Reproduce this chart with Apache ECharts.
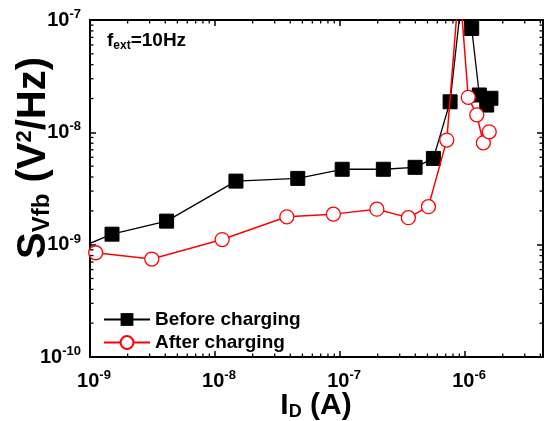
<!DOCTYPE html>
<html><head><meta charset="utf-8">
<script src="https://cdn.jsdelivr.net/npm/echarts@6/dist/echarts.min.js"></script>
<style>html,body{margin:0;padding:0;background:#fff}#c{width:544px;height:421px}</style>
</head><body><div id="c"></div>
<script>
// ---- data ----
const beforeX = [7e-10, 1.5e-9, 4.1e-9, 1.47e-8, 4.59e-8, 1.04e-7, 2.22e-7, 3.98e-7, 5.58e-7, 7.59e-7, 9.1e-7, 1.13e-6, 1.30e-6, 1.49e-6, 1.61e-6];
const beforeY = [8.7e-10, 1.24e-9, 1.62e-9, 3.68e-9, 3.89e-9, 4.69e-9, 4.69e-9, 4.88e-9, 5.86e-9, 1.87e-8, 1.15e-7, 8.4e-8, 2.15e-8, 1.75e-8, 2.01e-8];
const afterX = [1.11e-9, 3.12e-9, 1.14e-8, 3.75e-8, 8.84e-8, 1.97e-7, 3.52e-7, 5.09e-7, 7.14e-7, 9.0e-7, 1.06e-6, 1.24e-6, 1.40e-6, 1.56e-6];
const afterY = [8.47e-10, 7.45e-10, 1.11e-9, 1.77e-9, 1.87e-9, 2.07e-9, 1.74e-9, 2.18e-9, 8.53e-9, 2.2e-7, 2.05e-8, 1.43e-8, 8.07e-9, 1.01e-8];
const seriesNames = ['Before charging', 'After charging'];
const xTickExps = [-9, -8, -7, -6];
const yTickExps = [-10, -9, -8, -7];
const xMin = 1e-9, xMax = 4.2e-6, yMin = 1e-10, yMax = 1e-7;
const minorMult = [2, 3, 4, 5, 6, 7, 8, 9];

const FONT = 'Arial, "Liberation Sans", sans-serif';
const zip = (a, b) => a.map((v, i) => [v, b[i]]);

function expLabel(v, list) {
  const e = Math.round(Math.log10(v));
  if (Math.abs(Math.log10(v) - e) > 1e-6 || list.indexOf(e) < 0) return '';
  return '{n|10}{s|' + e + '}';
}
const labelRich = {
  n: {fontSize: 20, fontWeight: 'bold', fontFamily: FONT, color: '#000'},
  s: {fontSize: 13, fontWeight: 'bold', fontFamily: FONT, color: '#000', padding: [0, 0, 11, 0]}
};

// minor tick values
const xMinor = [], yMinor = [];
for (let e = -10; e <= -5; e++) minorMult.forEach(m => { const v = m * Math.pow(10, e); if (v > xMin && v < xMax) xMinor.push(v); });
for (let e = -11; e <= -7; e++) minorMult.forEach(m => { const v = m * Math.pow(10, e); if (v > yMin && v < yMax) yMinor.push(v); });

const chart = echarts.init(document.getElementById('c'), null, {renderer: 'canvas'});
const axisCommon = {
  type: 'log', logBase: 10,
  axisLine: {show: true, lineStyle: {color: '#000', width: 2}},
  axisTick: {show: true, inside: true, length: 6, lineStyle: {color: '#000', width: 1.5}},
  splitLine: {show: false}, minorTick: {show: false}
};
chart.setOption({
  animation: false,
  backgroundColor: '#fff',
  grid: {left: 90, right: 1, top: 20, bottom: 64, show: false, containLabel: false, outerBoundsMode: 'none'},
  xAxis: [
    Object.assign({}, axisCommon, {
      min: xMin, max: xMax, position: 'bottom',
      axisLabel: {show: true, margin: 12, padding: [0, 0, 0, 8], showMaxLabel: false, formatter: v => expLabel(v, xTickExps), rich: labelRich}
    }),
    Object.assign({}, axisCommon, {min: xMin, max: xMax, position: 'top', axisLabel: {show: false}})
  ],
  yAxis: [
    Object.assign({}, axisCommon, {
      min: yMin, max: yMax, position: 'left',
      axisLabel: {show: true, margin: 9, formatter: v => expLabel(v, yTickExps), rich: labelRich}
    }),
    Object.assign({}, axisCommon, {min: yMin, max: yMax, position: 'right', axisLabel: {show: false}})
  ],
  legend: {
    data: seriesNames, orient: 'vertical', left: 98, top: 305,
    itemWidth: 46, itemHeight: 16, itemGap: 4,
    textStyle: {fontSize: 19, fontWeight: 'bold', fontFamily: FONT, color: '#000'}
  },
  graphic: [{
    type: 'text', left: 107, top: 31, z: 10,
    style: {
      text: '{f|f}{sub|ext}{f|=10Hz}',
      rich: {
        f: {fontSize: 19, fontWeight: 'bold', fontFamily: FONT, fill: '#000'},
        sub: {fontSize: 12, fontWeight: 'bold', fontFamily: FONT, fill: '#000', padding: [10, 0, 0, 0]}
      }
    }
  }, {
    type: 'text', x: 34, y: 158, rotation: Math.PI / 2, z: 10,
    style: {
      text: '{S|S}{sub|Vfb}{S| (V}{sup|2}{S|/Hz)}',
      align: 'center', verticalAlign: 'middle',
      rich: {
        S: {fontSize: 40, fontWeight: 'bold', fontFamily: FONT, fill: '#000'},
        sub: {fontSize: 24, fontWeight: 'bold', fontFamily: FONT, fill: '#000', padding: [16, 0, 0, 0]},
        sup: {fontSize: 22, fontWeight: 'bold', fontFamily: FONT, fill: '#000', padding: [0, 0, 18, 0]}
      }
    }
  }, {
    type: 'text', x: 316, y: 406, z: 10,
    style: {
      text: '{I|I}{sub|D}{I| (A)}',
      align: 'center', verticalAlign: 'middle',
      rich: {
        I: {fontSize: 30, fontWeight: 'bold', fontFamily: FONT, fill: '#000'},
        sub: {fontSize: 18, fontWeight: 'bold', fontFamily: FONT, fill: '#000', padding: [12, 0, 0, 0]}
      }
    }
  }],
  series: [
    {
      name: seriesNames[0], type: 'line', data: zip(beforeX, beforeY), clip: true,
      symbol: 'rect', symbolSize: 14,
      lineStyle: {color: '#000', width: 1.3}, itemStyle: {color: '#000', borderColor: '#000'}, z: 3
    },
    {
      name: seriesNames[1], type: 'line', data: zip(afterX, afterY), clip: true,
      symbol: 'circle', symbolSize: 14, showAllSymbol: true,
      lineStyle: {color: '#ff0000', width: 1.5}, itemStyle: {color: '#fff', borderColor: '#ff0000', borderWidth: 1.3}, z: 4
    },
    {
      type: 'custom', coordinateSystem: 'cartesian2d', silent: true, clip: false, z: 5,
      data: [[xMin, yMin]],
      renderItem: function (params, api) {
        const cs = params.coordSys;
        const top = cs.y, bottom = cs.y + cs.height, left = cs.x, right = cs.x + cs.width;
        const L = 3.5, st = {stroke: '#000', lineWidth: 1.3};
        const children = [];
        xMinor.forEach(v => {
          const px = api.coord([v, yMin])[0];
          children.push({type: 'line', shape: {x1: px, y1: bottom, x2: px, y2: bottom - L}, style: st});
          children.push({type: 'line', shape: {x1: px, y1: top, x2: px, y2: top + L}, style: st});
        });
        yMinor.forEach(v => {
          const py = api.coord([xMin, v])[1];
          children.push({type: 'line', shape: {x1: left, y1: py, x2: left + L, y2: py}, style: st});
          children.push({type: 'line', shape: {x1: right, y1: py, x2: right - L, y2: py}, style: st});
        });
        return {type: 'group', children: children};
      }
    }
  ]
});
</script>
</body></html>
